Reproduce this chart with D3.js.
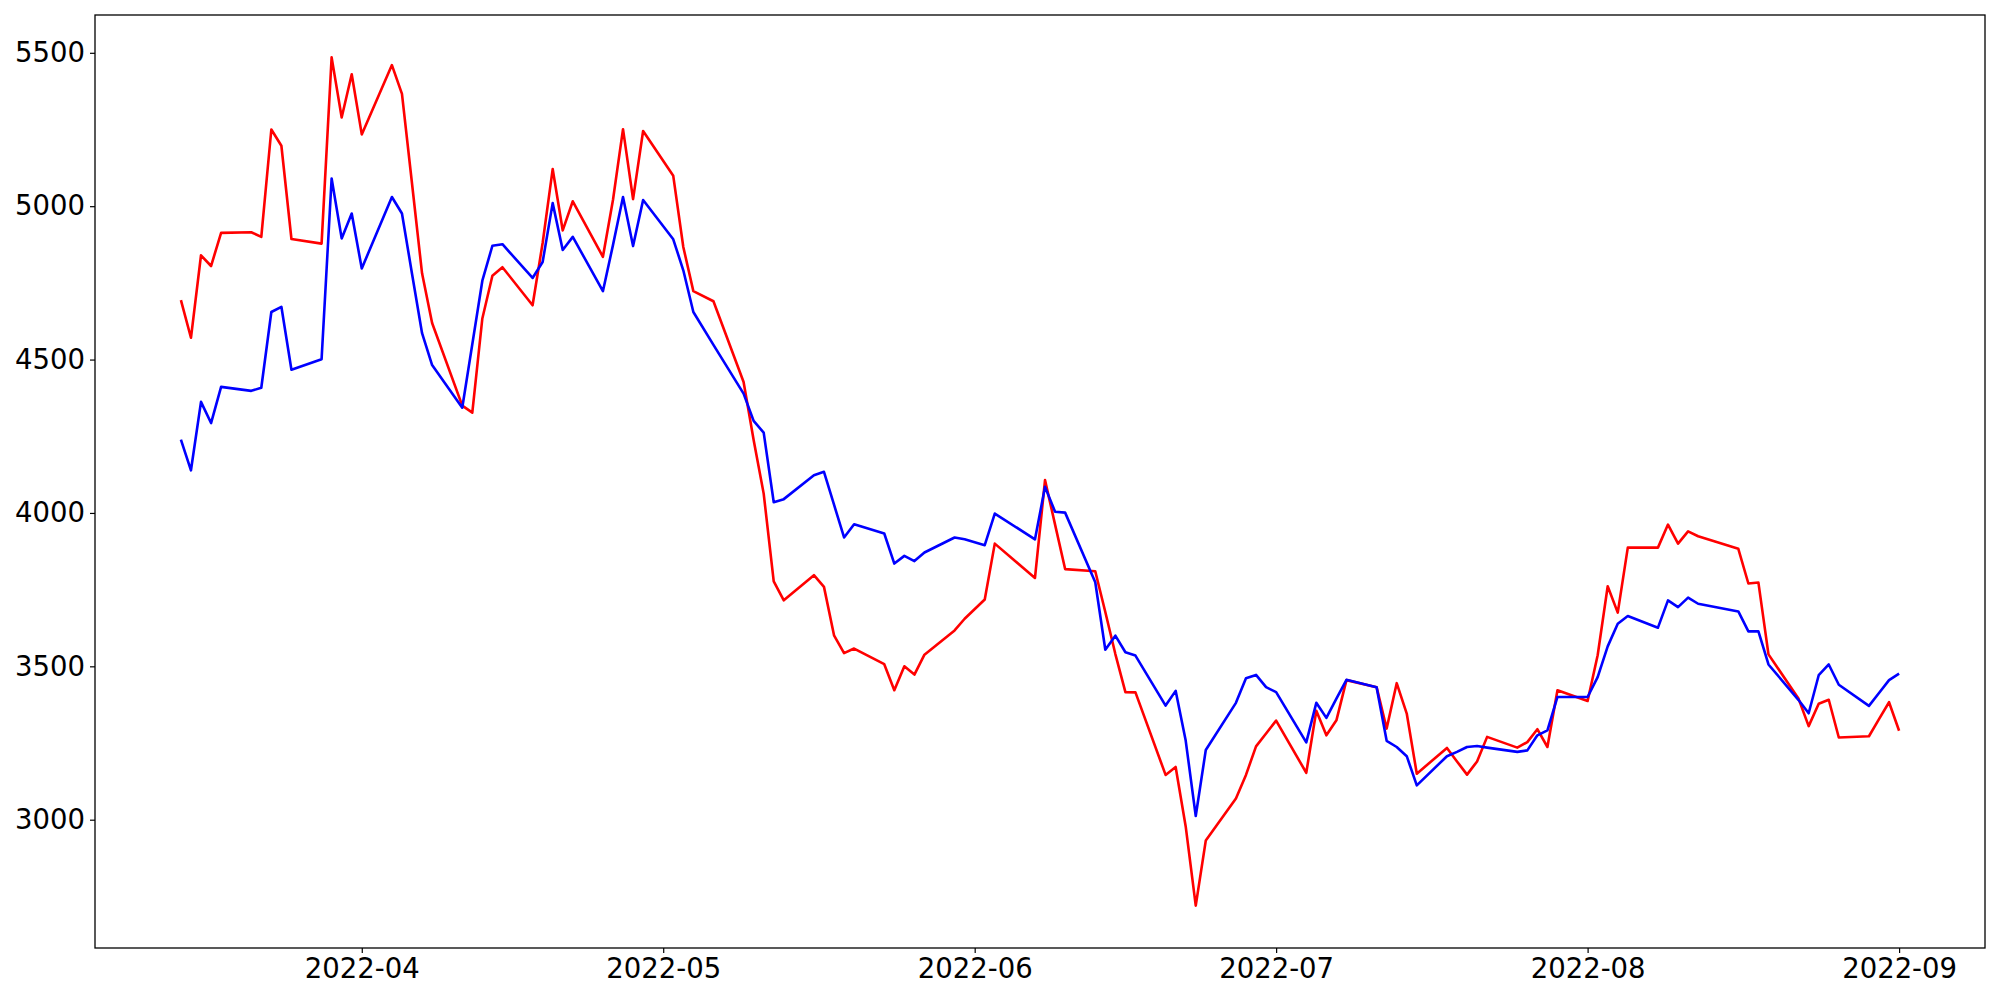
<!DOCTYPE html>
<html>
<head>
<meta charset="utf-8">
<script src="https://cdn.jsdelivr.net/npm/d3@7"></script>
<style>
  html, body { margin: 0; padding: 0; background: #fff; }
  svg { display: block; }
  .tick text { font-family: "DejaVu Sans", sans-serif; }
</style>
</head>
<body>
<div id="chart"></div>
<script>
// ---- Data ----
const dates = [
  "2022-03-14","2022-03-15","2022-03-16","2022-03-17","2022-03-18",
  "2022-03-21","2022-03-22","2022-03-23","2022-03-24","2022-03-25",
  "2022-03-28","2022-03-29","2022-03-30","2022-03-31","2022-04-01",
  "2022-04-04","2022-04-05","2022-04-06","2022-04-07","2022-04-08",
  "2022-04-11","2022-04-12","2022-04-13","2022-04-14","2022-04-15",
  "2022-04-18","2022-04-19","2022-04-20","2022-04-21","2022-04-22",
  "2022-04-25","2022-04-26","2022-04-27","2022-04-28","2022-04-29",
  "2022-05-02","2022-05-03","2022-05-04","2022-05-06",
  "2022-05-09","2022-05-10","2022-05-11","2022-05-12","2022-05-13",
  "2022-05-16","2022-05-17","2022-05-18","2022-05-19","2022-05-20",
  "2022-05-23","2022-05-24","2022-05-25","2022-05-26","2022-05-27",
  "2022-05-30","2022-05-31","2022-06-02","2022-06-03",
  "2022-06-07","2022-06-08","2022-06-09","2022-06-10",
  "2022-06-13","2022-06-14","2022-06-15","2022-06-16","2022-06-17",
  "2022-06-20","2022-06-21","2022-06-22","2022-06-23","2022-06-24",
  "2022-06-27","2022-06-28","2022-06-29","2022-06-30","2022-07-01",
  "2022-07-04","2022-07-05","2022-07-06","2022-07-07","2022-07-08",
  "2022-07-11","2022-07-12","2022-07-13","2022-07-14","2022-07-15",
  "2022-07-18","2022-07-19","2022-07-20","2022-07-21","2022-07-22",
  "2022-07-25","2022-07-26","2022-07-27","2022-07-28","2022-07-29",
  "2022-08-01","2022-08-02","2022-08-03","2022-08-04","2022-08-05",
  "2022-08-08","2022-08-09","2022-08-10","2022-08-11","2022-08-12",
  "2022-08-16","2022-08-17","2022-08-18","2022-08-19",
  "2022-08-22","2022-08-23","2022-08-24","2022-08-25","2022-08-26",
  "2022-08-29","2022-08-30","2022-08-31","2022-09-01"
];

const redValues = [
  4694,4571,4840,4805,4913,
  4915,4900,5250,5197,4893,
  4878,5485,5289,5430,5234,
  5460,5366,5074,4781,4619,
  4350,4327,4634,4773,4801,
  4677,4880,5121,4921,5016,
  4835,5020,5251,5023,5245,
  5099,4867,4723,4690,
  4427,4238,4063,3777,3715,
  3797,3759,3601,3543,3558,
  3507,3422,3500,3473,3538,
  3617,3655,3718,3900,
  3788,4107,3962,3817,
  3810,3677,3540,3416,3415,
  3146,3172,2978,2720,2932,
  3069,3146,3239,3281,3323,
  3153,3355,3275,3324,3455,
  3432,3297,3445,3346,3150,
  3234,3190,3147,3190,3270,
  3235,3253,3295,3237,3422,
  3387,3536,3761,3675,3887,
  3887,3962,3900,3940,3924,
  3883,3770,3773,3539,
  3394,3305,3378,3391,3268,
  3272,3328,3383,3290
];

const blueValues = [
  4239,4139,4362,4293,4411,
  4398,4408,4655,4672,4467,
  4501,5090,4895,4976,4797,
  5030,4976,4780,4586,4482,
  4343,4550,4757,4871,4876,
  4766,4818,5010,4857,4900,
  4723,4873,5030,4870,5020,
  4892,4791,4655,4548,
  4389,4300,4262,4035,4045,
  4123,4134,4027,3920,3963,
  3933,3835,3860,3843,3871,
  3920,3914,3895,3998,
  3914,4085,4004,4001,
  3774,3554,3600,3546,3535,
  3372,3420,3258,3012,3227,
  3381,3461,3472,3432,3416,
  3252,3381,3332,3395,3456,
  3432,3257,3237,3207,3112,
  3207,3221,3237,3240,3235,
  3221,3226,3275,3291,3400,
  3400,3465,3565,3639,3664,
  3626,3715,3693,3724,3704,
  3679,3614,3614,3506,
  3390,3347,3471,3506,3440,
  3371,3413,3455,3476
];

const xTickDates = ["2022-04-01","2022-05-01","2022-06-01","2022-07-01","2022-08-01","2022-09-01"];
const yTicks = [3000, 3500, 4000, 4500, 5000, 5500];

// ---- Chart ----
const W = 2000, H = 1000;
const margin = {left: 95, top: 15, right: 15, bottom: 52};
const iw = W - margin.left - margin.right;
const ih = H - margin.top - margin.bottom;

const parse = d3.utcParse("%Y-%m-%d");
const xs = dates.map(parse);

const svg = d3.select("#chart").append("svg")
  .attr("width", W).attr("height", H)
  .style("background", "#fff");

const g = svg.append("g").attr("transform", `translate(${margin.left},${margin.top})`);

// matplotlib-like 5% margins
const [x0, x1] = d3.extent(xs);
const xPad = (x1 - x0) * 0.05;
const x = d3.scaleUtc().domain([new Date(+x0 - xPad), new Date(+x1 + xPad)]).range([0, iw]);

const allVals = redValues.concat(blueValues);
const [y0, y1] = d3.extent(allVals);
const yPad = (y1 - y0) * 0.05;
const y = d3.scaleLinear().domain([y0 - yPad, y1 + yPad]).range([ih, 0]);

const line = d3.line()
  .x((d, i) => x(xs[i]))
  .y(d => y(d));

g.append("path").datum(redValues)
  .attr("fill", "none").attr("stroke", "#ff0000")
  .attr("stroke-width", 2.6).attr("stroke-linejoin", "round")
  .attr("d", line);

g.append("path").datum(blueValues)
  .attr("fill", "none").attr("stroke", "#0000ff")
  .attr("stroke-width", 2.6).attr("stroke-linejoin", "round")
  .attr("d", line);

// axes
const xAxis = d3.axisBottom(x)
  .tickValues(xTickDates.map(parse))
  .tickFormat(d3.utcFormat("%Y-%m"))
  .tickSize(5).tickPadding(5);
const yAxis = d3.axisLeft(y)
  .tickValues(yTicks)
  .tickFormat(d3.format("d"))
  .tickSize(5).tickPadding(5);

const gx = g.append("g").attr("transform", `translate(0,${ih})`).call(xAxis);
const gy = g.append("g").call(yAxis);

[gx, gy].forEach(a => {
  a.select(".domain").remove();
  a.selectAll(".tick line").attr("stroke", "#000").attr("stroke-width", 1.2);
  a.selectAll(".tick text")
    .attr("fill", "#000")
    .style("font-size", "27.5px")
    .style("font-family", "'DejaVu Sans', sans-serif");
});

// frame (spines)
g.append("rect")
  .attr("x", 0).attr("y", 0).attr("width", iw).attr("height", ih)
  .attr("fill", "none").attr("stroke", "#000").attr("stroke-width", 1.3);
</script>
</body>
</html>
